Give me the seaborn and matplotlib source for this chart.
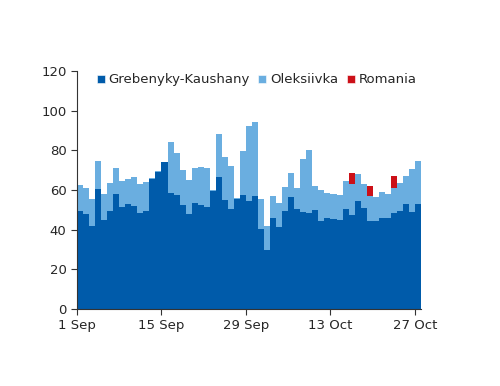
import numpy as np
import pandas as pd
import matplotlib
matplotlib.use("Agg")
import matplotlib.pyplot as plt
import seaborn as sns
from matplotlib.lines import Line2D

# daily flows, 1 Sep .. 27 Oct
tick_labels = ["1 Sep", "15 Sep", "29 Sep", "13 Oct", "27 Oct"]
tick_days = [0, 14, 28, 42, 56]

grebenyky = [49.4, 47.9, 42, 60.5, 45, 49.6, 58, 51.6, 52.8, 52, 48.6, 49.4, 65.7, 69.3,
             73.9, 58.7, 57.4, 52.5, 47.7, 53.3, 52.2, 51.2, 59.5, 66.7, 55.1, 50.6, 55.6, 57.6,
             54.5, 57, 40.2, 29.7, 46, 41.2, 49.2, 56.3, 50.4, 49.1, 48.2, 49.9, 44.5, 45.9,
             45.4, 44.9, 50.4, 47.4, 54.6, 51.1, 44.2, 44.5, 45.9, 45.7, 48.2, 49.6, 52.8, 49.1, 53.1]
oleksiivka = [13.0, 13.3, 13.6, 14.1, 13.0, 14.1, 13.0, 12.9, 12.9, 14.5, 14.4, 14.7, 0.5, 0.5,
              0.4, 25.3, 21.3, 17.5, 17.4, 18.0, 19.4, 19.7, 0.4, 21.6, 21.4, 21.7, 0.4, 21.9,
              37.8, 37.3, 15.5, 12.2, 11.1, 12.1, 12.5, 12.1, 10.8, 26.4, 32.0, 12.1, 15.3, 12.6,
              12.4, 12.6, 14.1, 15.8, 13.5, 11.9, 12.8, 12.1, 13.1, 12.3, 13.0, 13.9, 14.2, 21.5, 21.4]
romania = [0] * 45 + [5.4, 0, 0, 5.2, 0, 0, 0, 5.7, 0, 0, 0, 0]

names = ["Grebenyky-Kaushany", "Oleksiivka", "Romania"]
colors = {"Grebenyky-Kaushany": "#005BAA", "Oleksiivka": "#6AAEE0", "Romania": "#CC1018"}

n_days = len(grebenyky)
frames = []
for name, vals in zip(names, [grebenyky, oleksiivka, romania]):
    frames.append(pd.DataFrame({"day": np.arange(n_days) + 0.5, "value": vals, "source": name}))
df = pd.concat(frames, ignore_index=True)

sns.set_style("ticks")
plt.rcParams["font.family"] = ["DejaVu Sans"]

fig = plt.figure(figsize=(5, 3.86), dpi=100)
ax = fig.add_axes([0.154, 0.1995, 0.688, 0.6166])

sns.histplot(data=df, x="day", weights="value", hue="source",
             hue_order=names[::-1], palette=colors, multiple="stack",
             bins=n_days, binrange=(0, n_days), element="bars",
             linewidth=0, alpha=1, legend=False, ax=ax)

ax.set_xlim(0, n_days)
ax.set_ylim(0, 120)
ax.set_yticks(range(0, 121, 20))
ax.set_xticks(tick_days)
ax.set_xticklabels(tick_labels)
ax.set_xlabel("")
ax.set_ylabel("")
ax.tick_params(labelsize=9.5, length=4, width=0.8, color="#333333")
sns.despine(ax=ax)
for s in ["left", "bottom"]:
    ax.spines[s].set_color("#333333")
    ax.spines[s].set_linewidth(0.8)

# legend squares sit on one row near the top of the axes
handles = [Line2D([], [], marker="s", linestyle="", markersize=6,
                  markerfacecolor=colors[n], markeredgecolor="white", markeredgewidth=0.4)
           for n in names]
ax.legend(handles, names, loc="upper left", bbox_to_anchor=(0.04, 1.013), ncol=3,
          frameon=False, fontsize=9.5, handlelength=0.7, handletextpad=0.25,
          columnspacing=0.6, borderaxespad=0)

fig.savefig("out.png", dpi=100)
